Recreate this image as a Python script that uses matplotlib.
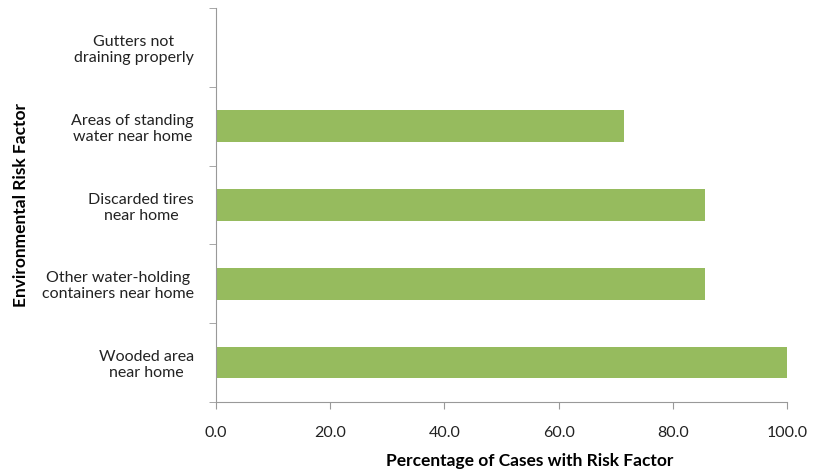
import matplotlib
matplotlib.use('Agg')
from matplotlib import pyplot as plt
import numpy as np

# categories listed bottom to top
categories = ['Wooded area\nnear home',
              'Other water-holding\ncontainers near home',
              'Discarded tires\nnear home',
              'Areas of standing\nwater near home',
              'Gutters not\ndraining properly']
values = [100.0, 85.7, 85.7, 71.4, 0.0]
xticks = [0, 20, 40, 60, 80, 100]

plt.rcParams['font.family'] = ['Lato', 'DejaVu Sans']

fig = plt.figure(figsize=(8.23, 4.69), dpi=100)
ax = fig.add_axes([216/823, 1-402/469, 571/823, 394/469])

pos = np.arange(len(categories))
ax.barh(pos, values, height=0.4, color='#96BB5E', zorder=2)

ax.set_xlim(0, 100)
ax.set_ylim(-0.5, len(categories) - 0.5)
ax.set_xticks(xticks)
ax.set_xticklabels(['%.1f' % t for t in xticks], fontsize=11.5, color='#222222')
ax.set_yticks(pos)
ax.set_yticklabels(categories, fontsize=11.5, color='#222222', ha='right', multialignment='center')
ax.set_yticks(np.arange(len(categories) + 1) - 0.5, minor=True)
ax.tick_params(axis='y', which='major', length=0, pad=16)
ax.tick_params(axis='y', which='minor', length=5, color='#999999', direction='out')
ax.tick_params(axis='x', length=5, color='#999999', pad=12)

for s in ['top', 'right']:
    ax.spines[s].set_visible(False)
for s in ['left', 'bottom']:
    ax.spines[s].set_color('#999999')

ax.set_xlabel('Percentage of Cases with Risk Factor', fontsize=12.5, fontweight='bold', labelpad=11)
ax.xaxis.set_label_coords(0.55, -0.13)
ax.set_ylabel('Environmental Risk Factor', fontsize=12.5, fontweight='bold', labelpad=9)

fig.savefig('out.png', dpi=100)
